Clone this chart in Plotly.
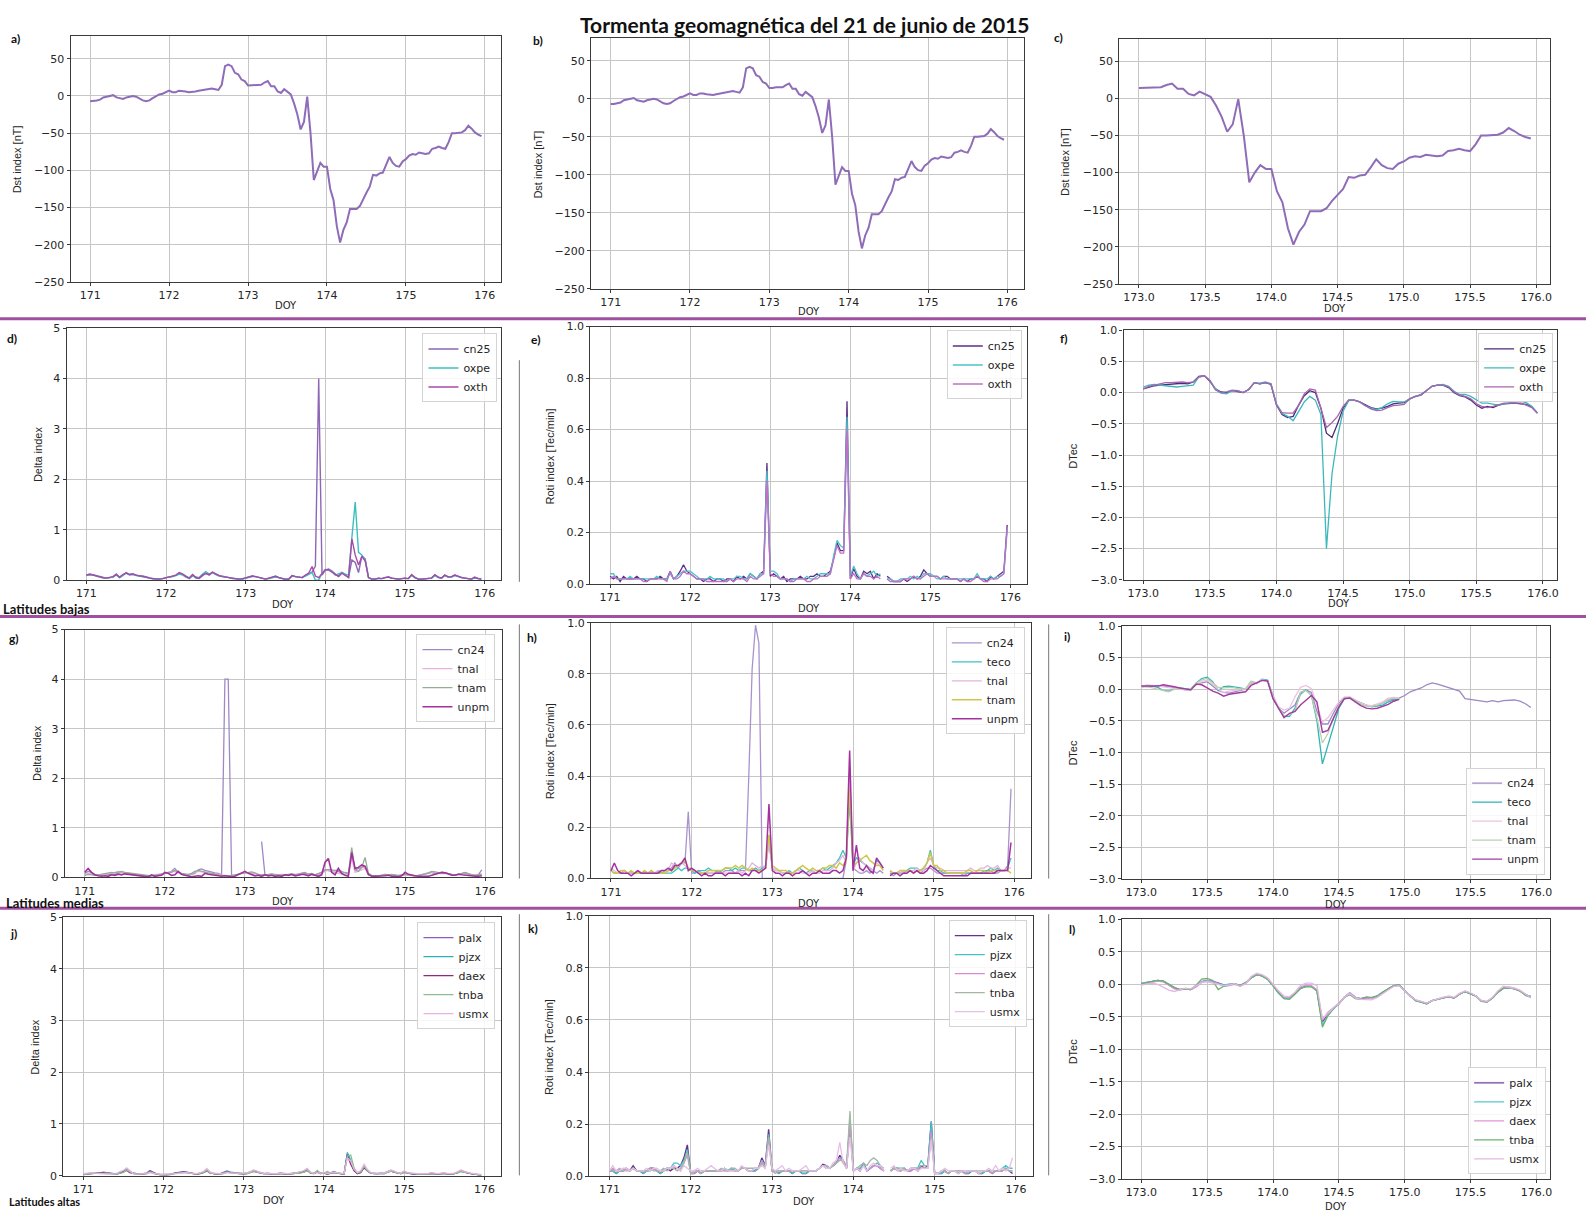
import plotly.graph_objects as go

W, H = 1588, 1218

# ---------------- time bases (hourly samples, day of year) ----------------
doy_full = [171 + h / 24 for h in range(120)]   # 171.000 ... 175.958
doy_late = [173 + h / 24 for h in range(72)]    # 173.000 ... 175.958
doy_mid = doy_late[:48]                         # 173.000 ... 174.958

# ---------------- Dst index [nT] ----------------
dst = [
    -7, -7, -6, -5, -2, -1,  0, 1, -2, -3, -4, -2,  -1, 0, -1, -4, -6, -7,  -6, -3, 0, 2, 3, 5,
    7, 5, 5, 7, 7, 6,  5, 5, 6, 7, 8, 8,  9, 10, 9, 8, 15, 40,  42, 40, 31, 29, 22, 20,
    14, 14, 15, 15, 15, 18,  20, 13, 13, 6, 4, 9,  6, 2, -10, -25, -45, -35,  -1, -50, -113, -100, -90, -95,
    -95, -125, -140, -175, -197, -180,  -170, -152, -152, -152, -148, -138,  -130, -122, -106, -107, -104, -103,  -93, -82, -90, -94, -95, -88,
    -85, -80, -78, -79, -76, -77,  -78, -77, -71, -70, -68, -70,  -71, -62, -50, -50, -49, -49,  -46, -40, -44, -49, -52, -54,
]

# ---------------- low latitudes ----------------
delta_cn25 = [
    .10, .12, .11, .09, .07, .05,  .04, .05, .06, .12, .05, .10,  .15, .11, .12, .10, .08, .08,  .06, .05, .03, .02, .02, .03,
    .05, .06, .07, .10, .14, .12,  .08, .04, .10, .04, .03, .08,  .14, .10, .15, .12, .09, .08,  .07, .05, .03, .02, .02, .02,
    .04, .06, .08, .07, .05, .03,  .02, .04, .06, .07, .05, .03,  .01, .02, .09, .07, .06, .05,  .09, .13, .16, .28, 4.0, .10,
    .20, .22, .18, .12, .08, .15,  .10, .05, .40, .35, .15, .48,  .42, .05, .02, .02, .04, .03,  .05, .06, .04, .03, .02, .03,
    .04, .03, .10, .05, .02, .02,  .03, .03, .04, .10, .06, .04,  .10, .07, .06, .10, .07, .05,  .04, .03, .02, .05, .03, .02,
]
delta_oxpe = [
    .09, .11, .10, .08, .06, .04,  .04, .05, .06, .10, .05, .09,  .14, .10, .11, .09, .08, .07,  .05, .04, .02, .02, .02, .03,
    .05, .06, .07, .09, .12, .10,  .06, .03, .08, .06, .05, .12,  .17, .12, .15, .11, .08, .07,  .06, .04, .03, .02, .02, .02,
    .04, .05, .07, .07, .05, .03,  .02, .03, .05, .06, .05, .04,  .02, .03, .08, .07, .06, .05,  .08, .12, .15, .00, .00, .14,
    .20, .21, .17, .10, .12, .15,  .12, .10, .85, 1.55, .55, .50,  .40, .05, .02, .02, .03, .03,  .05, .06, .04, .03, .02, .03,
    .03, .03, .09, .05, .02, .02,  .03, .03, .04, .09, .05, .04,  .09, .06, .06, .09, .07, .05,  .04, .03, .02, .04, .03, .02,
]
delta_oxth = [
    .10, .11, .10, .08, .06, .05,  .04, .05, .07, .11, .06, .11,  .14, .11, .12, .10, .09, .07,  .06, .04, .03, .02, .02, .03,
    .05, .06, .08, .10, .15, .12,  .07, .04, .11, .05, .04, .10,  .13, .11, .16, .12, .09, .07,  .06, .05, .03, .02, .02, .03,
    .05, .07, .08, .07, .05, .03,  .02, .04, .06, .08, .05, .03,  .02, .02, .09, .07, .06, .05,  .10, .14, .27, .08, .05, .12,
    .21, .20, .16, .12, .07, .14,  .10, .05, .82, .50, .30, .47,  .38, .05, .02, .02, .04, .03,  .05, .06, .04, .03, .02, .03,
    .04, .03, .11, .05, .02, .02,  .03, .03, .04, .11, .06, .04,  .10, .06, .07, .10, .07, .05,  .04, .03, .02, .06, .03, .02,
]

roti_cn25 = [
    .03, .02, .03, .01, .03, .02,  .02, .02, .03, .02, .02, .01,  .02, .02, .02, .03, .02, .02,  .05, .02, .03, .05, .075, .05,
    .04, .03, .02, .02, .01, .02,  .02, .01, .02, .02, .01, .02,  .02, .01, .03, .02, .03, .02,  .04, .03, .02, .04, .05, .47,
    .03, .04, .03, .02, .03, .01,  .02, .02, .02, .03, .02, .02,  .03, .03, .04, .03, .03, .04,  .05, .10, .16, .13, .13, .71,
    .02, .06, .03, .02, .05, .04,  .05, .02, .04, .03, None, .03,  .02, .01, .01, .01, .02, .01,  .02, .03, .02, .03, .055, .04,
    .03, .03, .03, .02, .03, .03,  .02, .02, .02, .01, .02, .01,  .02, .02, .03, .02, .02, .01,  .03, .02, .03, .04, .05, .23,
]
roti_oxpe = [
    .04, .04, .02, .02, .02, .02,  .03, .02, .02, .02, .02, .02,  .02, .02, .03, .02, .02, .02,  .04, .02, .03, .04, .05, .05,
    .05, .04, .03, .02, .02, .02,  .03, .02, .02, .02, .02, .01,  .02, .02, .03, .03, .02, .02,  .04, .03, .02, .04, .04, .44,
    .05, .05, .04, .02, .02, .02,  .01, .02, .02, .02, .02, .03,  .02, .02, .03, .04, .04, .04,  .04, .11, .17, .15, .14, .65,
    .03, .07, .04, .02, .04, .03,  .04, .05, .03, .04, None, .02,  .02, .01, .01, .02, .02, .02,  .03, .02, .03, .02, .04, .04,
    .04, .03, .02, .02, .03, .02,  .02, .02, .02, .02, .02, .02,  .02, .02, .04, .02, .02, .02,  .03, .02, .03, .03, .04, .21,
]
roti_oxth = [
    .02, .03, .02, .02, .02, .02,  .02, .02, .02, .02, .01, .01,  .02, .02, .02, .02, .02, .01,  .05, .02, .02, .03, .05, .04,
    .04, .03, .02, .02, .02, .01,  .01, .01, .01, .01, .01, .01,  .02, .01, .02, .02, .02, .01,  .03, .02, .02, .03, .04, .40,
    .04, .03, .03, .02, .02, .02,  .01, .01, .02, .02, .02, .01,  .01, .02, .02, .03, .03, .03,  .04, .09, .15, .12, .12, .60,
    .02, .04, .02, .02, .04, .03,  .03, .02, .03, .02, None, .02,  .01, .01, .01, .01, .02, .02,  .02, .03, .02, .02, .03, .04,
    .03, .03, .03, .02, .02, .02,  .02, .02, .02, .01, .02, .01,  .01, .02, .03, .02, .01, .01,  .02, .02, .02, .03, .04, .22,
]

dtec_cn25 = [
    .06, .09, .11, .12, .13, .14,  .15, .15, .14, .17, .26, .27,  .18, .06, .01, .00, .03, .02,  .00, .05, .16, .14, .16, .13,
    -.20, -.35, -.40, -.38, -.20, -.05,  .03, .00, -.25, -.65, -.72, -.50,  -.25, -.12, -.12, -.15, -.20, -.24,  -.26, -.25, -.22, -.18, -.17, -.16,
    -.10, -.06, -.04, .03, .10, .12,  .12, .08, .00, -.05, -.07, -.12,  -.20, -.25, -.22, -.24, -.20, -.18,  -.17, -.17, -.18, -.19, -.23, -.33,
]
dtec_oxpe = [
    .09, .12, .13, .12, .11, .10,  .09, .10, .11, .12, .25, .27,  .20, .06, -.01, -.02, .03, .03,  .00, .05, .16, .15, .17, .14,
    -.18, -.33, -.38, -.45, -.30, -.15,  -.06, -.12, -.35, -2.50, -1.30, -.70,  -.30, -.13, -.12, -.15, -.21, -.25,  -.27, -.24, -.18, -.14, -.15, -.15,
    -.10, -.06, -.03, .03, .10, .12,  .13, .10, .02, -.03, -.03, -.06,  -.12, -.17, -.17, -.18, -.20, -.18,  -.16, -.15, -.14, -.16, -.22, -.32,
]
dtec_oxth = [
    .06, .10, .12, .14, .16, .16,  .17, .17, .16, .17, .25, .27,  .19, .04, .00, .01, .04, .03,  .00, .05, .16, .14, .16, .14,
    -.20, -.32, -.33, -.33, -.20, -.02,  .06, .04, -.25, -.56, -.48, -.38,  -.22, -.12, -.12, -.15, -.21, -.26,  -.29, -.28, -.24, -.21, -.20, -.19,
    -.10, -.06, -.04, .03, .10, .12,  .12, .09, .01, -.04, -.06, -.10,  -.18, -.22, -.24, -.22, -.20, -.17,  -.17, -.17, -.17, -.20, -.24, -.33,
]

# ---------------- mid latitudes ----------------
delta_cn24 = [
    .08, .12, .10, .06, .05, .04,  .06, .05, .07, .06, .08, .10,  .09, .08, .07, .06, .05, .04,  .03, .02, .03, .05, .04, .06,
    .08, .10, .12, .18, .10, .06,  .05, .04, .06, .08, .15, .17,  .14, .12, .10, .09, .08, .05,  4.0, 4.0, .02, None, None, None,
    None, None, None, None, None, .72,  .05, .04, .06, .05, .04, .06,  .05, .04, .06, .05, .07, .08,  .10, .06, .08, .05, .07, .10,
    .15, .14, .12, .10, .12, .08,  .10, .08, .45, .15, .18, .20,  .22, .05, .03, .02, .03, .05,  .06, .04, .05, .04, .03, .05,
    .06, .04, .03, .03, .04, .05,  .06, .08, .10, .07, .08, .10,  .09, .07, .06, .05, .06, .08,  .10, .07, .05, .04, .06, .15,
]
delta_tnal = [
    .05, .08, .07, .05, .04, .05,  .06, .08, .09, .10, .12, .10,  .08, .07, .06, .05, .04, .04,  .03, .03, .04, .05, .06, .07,
    .08, .09, .10, .12, .09, .07,  .06, .05, .08, .10, .12, .11,  .10, .09, .08, .07, .05, .04,  .03, .03, .03, .05, .06, .08,
    .10, .09, .08, .06, .05, .04,  .04, .05, .06, .05, .04, .05,  .06, .05, .04, .05, .06, .07,  .08, .06, .05, .04, .05, .08,
    .12, .15, .14, .10, .08, .06,  .05, .04, .40, .10, .12, .15,  .18, .06, .03, .02, .03, .04,  .05, .05, .04, .03, .03, .04,
    .05, .05, .04, .03, .04, .06,  .08, .10, .11, .09, .08, .07,  .08, .06, .05, .04, .05, .06,  .08, .06, .05, .04, .04, .05,
]
delta_tnam = [
    .04, .06, .05, .04, .05, .06,  .07, .08, .10, .09, .11, .12,  .10, .09, .08, .07, .06, .05,  .04, .03, .03, .04, .05, .06,
    .07, .08, .10, .14, .11, .08,  .07, .06, .08, .12, .14, .12,  .10, .09, .08, .06, .05, .04,  .03, .03, .04, .05, .06, .07,
    .09, .10, .11, .09, .06, .05,  .05, .06, .07, .06, .05, .04,  .05, .06, .07, .06, .05, .06,  .08, .07, .06, .05, .07, .10,
    .15, .16, .15, .14, .15, .12,  .08, .06, .60, .15, .12, .20,  .40, .08, .04, .03, .03, .04,  .06, .05, .06, .05, .04, .05,
    .06, .05, .04, .03, .04, .05,  .07, .09, .12, .11, .09, .08,  .09, .07, .06, .05, .06, .07,  .09, .07, .05, .04, .05, .07,
]
delta_unpm = [
    .10, .18, .10, .05, .03, .02,  .03, .02, .05, .04, .06, .05,  .07, .06, .06, .05, .04, .02,  .02, .01, .05, .02, .03, .04,
    .10, .08, .04, .05, .12, .06,  .04, .03, .01, .02, .03, .02,  .08, .06, .05, .04, .03, .02,  .03, .02, .01, .02, .05, .08,
    .12, .08, .05, .03, .04, .02,  .05, .03, .04, .02, .03, .02,  .05, .04, .06, .03, .04, .06,  .05, .03, .06, .04, .02, .05,
    .30, .38, .10, .05, .18, .08,  .04, .02, .50, .18, .20, .25,  .22, .06, .02, .02, .02, .03,  .03, .04, .02, .02, .01, .03,
    .10, .06, .04, .03, .02, .02,  .03, .02, .04, .06, .08, .10,  .09, .06, .04, .04, .06, .05,  .04, .03, .03, .02, .02, .03,
]

roti_cn24 = [
    .03, .02, .02, .02, .03, .02,  .02, .02, .03, .02, .02, .02,  .03, .02, .02, .02, .03, .03,  .04, .06, .04, .06, .06, .26,
    .02, .02, .03, .02, .02, .02,  .02, .02, .03, .02, .03, .03,  .03, .02, .03, .03, .03, .40,  .82, .99, .92, .00, .00, .00,
    .00, .00, .00, .00, .00, .00,  .00, .00, .00, .00, .00, .00,  .00, .00, .00, .00, .00, .00,  .00, .00, .00, .00, .07, .40,
    .04, .03, .02, .02, .03, .02,  .03, .02, .03, .02, None, .02,  .01, .02, .02, .02, .03, .03,  .02, .03, .02, .03, .04, .04,
    .03, .02, .02, .02, .02, .02,  .02, .02, .02, .01, .02, .02,  .02, .02, .02, .02, .03, .03,  .02, .02, .03, .03, .05, .35,
]
roti_teco = [
    .03, .02, .02, .02, .03, .02,  .02, .02, .02, .02, .02, .02,  .02, .02, .03, .02, .02, .02,  .02, .03, .04, .03, .04, .04,
    .03, .02, .03, .03, .03, .04,  .03, .03, .02, .03, .04, .04,  .03, .04, .03, .04, .04, .03,  .03, .04, .03, .04, .05, .14,
    .04, .03, .03, .02, .02, .03,  .02, .03, .04, .03, .02, .03,  .03, .02, .03, .04, .03, .04,  .05, .06, .08, .11, .08, .30,
    .05, .08, .07, .06, .05, .04,  .03, .07, .06, .04, None, .02,  .02, .02, .02, .03, .03, .04,  .04, .04, .03, .04, .06, .11,
    .05, .03, .03, .02, .02, .02,  .02, .02, .02, .02, .02, .02,  .02, .02, .02, .03, .03, .04,  .03, .04, .03, .03, .04, .08,
]
roti_tnal = [
    .04, .03, .02, .02, .03, .02,  .02, .02, .03, .02, .03, .02,  .02, .02, .03, .03, .03, .03,  .06, .05, .05, .06, .05, .04,
    .04, .03, .02, .02, .02, .02,  .02, .02, .02, .02, .02, .02,  .02, .02, .03, .02, .03, .04,  .06, .05, .04, .05, .04, .14,
    .04, .03, .03, .02, .02, .02,  .02, .03, .03, .02, .02, .02,  .03, .02, .02, .03, .03, .03,  .04, .06, .07, .09, .06, .42,
    .03, .06, .08, .06, .05, .04,  .03, .06, .05, .04, None, .03,  .02, .02, .02, .03, .03, .03,  .03, .04, .03, .03, .06, .08,
    .05, .04, .04, .03, .03, .03,  .03, .03, .03, .03, .03, .04,  .03, .03, .04, .04, .05, .04,  .04, .05, .03, .03, .04, .04,
]
roti_tnam = [
    .03, .02, .02, .03, .03, .02,  .03, .02, .02, .02, .03, .02,  .03, .02, .02, .02, .02, .03,  .03, .04, .05, .06, .07, .04,
    .03, .03, .02, .02, .02, .03,  .03, .03, .03, .03, .04, .04,  .04, .05, .04, .05, .04, .03,  .04, .03, .03, .03, .04, .17,
    .05, .04, .03, .03, .03, .02,  .02, .03, .04, .05, .04, .03,  .04, .03, .03, .04, .04, .05,  .05, .04, .06, .05, .07, .35,
    .05, .06, .07, .08, .09, .07,  .06, .05, .05, .03, None, .03,  .02, .02, .03, .03, .03, .03,  .02, .03, .03, .04, .06, .10,
    .05, .05, .03, .03, .02, .02,  .02, .02, .02, .02, .03, .03,  .02, .03, .03, .03, .02, .03,  .03, .03, .03, .03, .03, .02,
]
roti_unpm = [
    .03, .06, .03, .02, .02, .02,  .01, .02, .03, .02, .02, .02,  .02, .02, .02, .03, .03, .04,  .03, .05, .05, .06, .08, .03,
    .04, .03, .02, .01, .02, .01,  .01, .02, .02, .02, .01, .02,  .02, .02, .02, .01, .02, .01,  .03, .03, .02, .03, .04, .29,
    .03, .02, .02, .01, .02, .02,  .01, .02, .02, .03, .02, .01,  .02, .02, .03, .02, .02, .02,  .03, .03, .02, .03, .08, .50,
    .03, .13, .04, .03, .05, .03,  .02, .08, .06, .04, None, .01,  .02, .02, .01, .02, .02, .03,  .02, .03, .02, .02, .03, .05,
    .04, .03, .02, .01, .01, .01,  .01, .01, .01, .01, .01, .02,  .02, .02, .02, .02, .02, .02,  .02, .03, .03, .03, .03, .14,
]

dtec_cn24 = [
    .04, .06, .05, .06, .05, .03,  .02, .01, -.01, -.01, .09, .10,  .12, .05, -.02, -.05, -.06, -.04,  -.02, .00, .10, .09, .15, .14,
    -.10, -.30, -.38, -.32, -.25, -.05,  -.01, -.05, -.35, -.55, -.55, -.38,  -.22, -.14, -.13, -.18, -.22, -.25,  -.27, -.26, -.22, -.17, -.16, -.14,
    -.10, -.04, -.01, .02, .07, .10,  .08, .05, .02, -.01, -.03, -.15,  -.16, -.17, -.18, -.20, -.18, -.20,  -.18, -.17, -.17, -.19, -.23, -.29,
]
dtec_teco = [
    .05, .04, .05, .03, -.02, -.03,  .00, .02, .01, .00, .10, .17,  .19, .12, -.02, .04, .05, .04,  .02, .00, .12, .10, .16, .14,
    -.15, -.30, -.43, -.43, -.30, -.08,  -.01, -.10, -.50, -1.18, -.90, -.60,  -.30, -.15, -.13, -.18, -.22, -.26,  -.28, -.27, -.25, -.20, -.17, -.15,
]
dtec_tnal = [
    .04, .07, .06, .05, .04, .03,  .02, .00, -.01, .00, .07, .13,  .14, .08, .00, -.05, -.03, -.02,  -.02, .00, .10, .10, .15, .13,
    -.12, -.28, -.33, -.30, -.12, .03,  .06, .01, -.25, -.52, -.45, -.33,  -.20, -.12, -.12, -.17, -.22, -.25,  -.26, -.23, -.20, -.14, -.13, -.14,
]
dtec_tnam = [
    .03, .04, .02, .00, -.03, -.04,  .00, .01, .00, -.02, .10, .15,  .17, .10, .03, .02, .03, .02,  .00, .01, .13, .10, .14, .13,
    -.15, -.30, -.42, -.40, -.35, -.05,  -.02, -.10, -.45, -.85, -.70, -.45,  -.25, -.14, -.13, -.18, -.24, -.27,  -.27, -.25, -.22, -.16, -.14, -.15,
]
dtec_unpm = [
    .05, .05, .04, .05, .07, .06,  .04, .02, .00, -.01, .08, .07,  .02, -.03, -.06, -.11, -.08, -.07,  -.06, -.04, .06, .10, .14, .13,
    -.15, -.30, -.45, -.38, -.35, -.25,  -.17, -.10, -.20, -.68, -.65, -.45,  -.28, -.15, -.14, -.20, -.26, -.30,  -.31, -.30, -.27, -.24, -.19, -.16,
]

# ---------------- high latitudes ----------------
delta_palx = [
    .03, .04, .04, .05, .06, .05,  .07, .06, .05, .04, .03, .06,  .08, .13, .08, .05, .04, .03,  .04, .05, .10, .06, .03, .02,
    .02, .01, .03, .05, .06, .07,  .08, .07, .06, .04, .03, .05,  .07, .11, .06, .04, .03, .04,  .06, .09, .07, .06, .05, .04,
    .04, .05, .07, .10, .08, .06,  .04, .05, .04, .03, .04, .05,  .04, .03, .04, .05, .06, .07,  .08, .12, .06, .05, .08, .05,
    .06, .03, .05, .08, .05, .04,  .03, .42, .25, .10, .04, .08,  .18, .10, .05, .04, .04, .05,  .04, .08, .10, .08, .05, .04,
    .08, .05, .04, .03, .04, .03,  .03, .03, .05, .04, .03, .04,  .05, .03, .03, .04, .07, .10,  .08, .05, .04, .03, .02, .01,
]
delta_pjzx = [
    .03, .04, .05, .05, .05, .06,  .06, .05, .05, .04, .04, .06,  .07, .12, .07, .05, .04, .03,  .04, .05, .08, .05, .03, .02,
    .02, .02, .03, .04, .06, .06,  .07, .07, .05, .04, .03, .05,  .06, .10, .06, .04, .03, .04,  .05, .08, .06, .05, .05, .04,
    .04, .05, .07, .09, .07, .05,  .04, .04, .04, .03, .04, .05,  .04, .03, .04, .05, .05, .06,  .08, .11, .06, .05, .07, .05,
    .05, .04, .05, .07, .05, .04,  .03, .45, .30, .12, .05, .07,  .15, .09, .05, .04, .04, .05,  .05, .08, .09, .07, .05, .04,
    .07, .05, .04, .03, .04, .03,  .03, .03, .05, .04, .03, .04,  .05, .03, .03, .04, .06, .09,  .07, .05, .04, .03, .02, .01,
]
delta_daex = [
    .02, .03, .04, .04, .05, .05,  .06, .05, .04, .04, .03, .05,  .07, .10, .06, .04, .03, .03,  .03, .04, .08, .05, .03, .02,
    .02, .01, .02, .04, .05, .06,  .07, .06, .05, .04, .03, .04,  .06, .09, .05, .04, .03, .03,  .05, .07, .06, .05, .04, .04,
    .03, .04, .06, .09, .07, .05,  .04, .04, .03, .03, .03, .04,  .04, .03, .03, .04, .05, .06,  .07, .10, .05, .04, .07, .04,
    .05, .03, .04, .06, .05, .04,  .03, .40, .22, .10, .04, .06,  .16, .09, .05, .04, .04, .05,  .04, .07, .09, .07, .05, .04,
    .07, .05, .04, .03, .03, .03,  .03, .03, .04, .04, .03, .04,  .04, .03, .03, .04, .06, .09,  .07, .05, .04, .03, .02, .01,
]
delta_tnba = [
    .02, .03, .03, .04, .05, .04,  .05, .05, .04, .03, .03, .05,  .06, .11, .07, .04, .03, .03,  .03, .04, .07, .05, .03, .02,
    .02, .02, .02, .04, .05, .05,  .06, .06, .05, .04, .03, .05,  .06, .10, .05, .04, .03, .03,  .04, .07, .06, .05, .04, .04,
    .03, .04, .06, .08, .07, .05,  .04, .04, .03, .03, .03, .04,  .04, .03, .03, .04, .05, .05,  .07, .10, .05, .04, .10, .04,
    .05, .08, .05, .06, .05, .04,  .03, .38, .40, .15, .05, .07,  .18, .09, .05, .04, .04, .05,  .04, .07, .09, .07, .05, .04,
    .06, .05, .04, .03, .03, .03,  .03, .03, .04, .04, .03, .04,  .04, .03, .03, .04, .06, .08,  .07, .05, .04, .03, .02, .01,
]
delta_usmx = [
    .04, .05, .06, .06, .05, .04,  .04, .03, .03, .03, .04, .08,  .10, .15, .09, .04, .03, .03,  .04, .05, .06, .04, .03, .03,
    .03, .03, .04, .03, .04, .05,  .06, .06, .05, .04, .04, .06,  .08, .14, .07, .05, .04, .04,  .05, .06, .05, .05, .04, .04,
    .04, .05, .08, .11, .09, .06,  .04, .05, .04, .04, .04, .05,  .05, .04, .04, .05, .06, .08,  .10, .14, .07, .05, .06, .05,
    .06, .04, .06, .07, .06, .05,  .04, .35, .28, .12, .06, .10,  .22, .12, .06, .05, .05, .06,  .05, .08, .11, .09, .06, .05,
    .09, .06, .05, .04, .04, .04,  .04, .04, .06, .05, .04, .05,  .06, .04, .04, .05, .08, .11,  .08, .06, .05, .04, .03, .02,
]

roti_palx = [
    .02, .02, .01, .02, .02, .03,  .02, .04, .02, .02, .01, .02,  .03, .03, .02, .01, .02, .03,  .02, .03, .03, .04, .07, .12,
    .01, .01, .02, .01, .02, .02,  .02, .02, .02, .02, .03, .02,  .03, .02, .02, .03, .03, .02,  .02, .02, .03, .07, .04, .18,
    .02, .02, .01, .02, .02, .02,  .01, .02, .02, .01, .01, .02,  .02, .02, .03, .045, .04, .03,  .04, .05, .08, .06, .03, .20,
    .02, .03, .02, .05, .02, .03,  .04, .04, .03, .02, None, .02,  .03, .03, .02, .03, .02, .02,  .03, .02, .04, .03, .04, .21,
    .01, .01, .01, .02, .01, .02,  .02, .01, .02, .01, .01, .02,  .02, .01, .01, .02, .02, .01,  .02, .02, .02, .03, .02, .01,
]
roti_pjzx = [
    .02, .02, .01, .02, .02, .03,  .02, .03, .02, .02, .01, .02,  .02, .03, .02, .01, .02, .03,  .03, .05, .05, .04, .06, .10,
    .01, .01, .02, .01, .02, .02,  .02, .02, .02, .02, .03, .02,  .03, .02, .02, .03, .03, .02,  .02, .02, .03, .06, .04, .16,
    .02, .02, .01, .02, .02, .02,  .01, .02, .02, .01, .01, .02,  .02, .02, .03, .04, .04, .03,  .04, .05, .07, .06, .03, .22,
    .02, .03, .03, .05, .02, .03,  .04, .05, .04, .02, None, .02,  .03, .03, .03, .03, .02, .03,  .03, .03, .06, .04, .04, .21,
    .01, .01, .01, .02, .01, .02,  .02, .01, .02, .01, .01, .02,  .02, .01, .01, .02, .02, .01,  .02, .02, .03, .04, .03, .03,
]
roti_daex = [
    .02, .03, .02, .02, .02, .03,  .02, .03, .02, .02, .02, .02,  .02, .03, .02, .02, .02, .03,  .03, .04, .03, .02, .05, .08,
    .01, .01, .02, .02, .02, .02,  .02, .02, .02, .02, .02, .02,  .02, .02, .02, .03, .03, .02,  .02, .03, .03, .06, .03, .15,
    .02, .02, .02, .02, .02, .02,  .02, .02, .02, .02, .02, .02,  .02, .02, .03, .04, .03, .03,  .04, .06, .07, .05, .03, .20,
    .02, .03, .02, .04, .02, .03,  .04, .04, .03, .02, None, .02,  .03, .02, .02, .03, .02, .02,  .03, .02, .03, .03, .03, .17,
    .01, .01, .02, .02, .01, .02,  .02, .02, .02, .01, .02, .02,  .02, .01, .02, .02, .02, .01,  .02, .02, .02, .03, .02, .02,
]
roti_tnba = [
    .02, .02, .02, .03, .02, .02,  .02, .03, .02, .02, .02, .02,  .03, .02, .02, .02, .03, .02,  .03, .03, .02, .03, .05, .09,
    .01, .02, .02, .01, .02, .02,  .02, .02, .02, .03, .02, .02,  .03, .03, .02, .03, .03, .03,  .03, .03, .03, .05, .03, .15,
    .02, .01, .02, .02, .02, .02,  .02, .02, .02, .02, .02, .02,  .02, .02, .03, .04, .04, .03,  .04, .05, .06, .06, .04, .25,
    .02, .03, .04, .05, .04, .06,  .07, .06, .04, .03, None, .02,  .03, .03, .02, .03, .02, .03,  .03, .03, .04, .04, .04, .15,
    .01, .01, .02, .02, .01, .02,  .02, .02, .02, .02, .02, .02,  .02, .02, .02, .02, .02, .02,  .02, .02, .02, .03, .02, .02,
]
roti_usmx = [
    .02, .04, .02, .02, .03, .03,  .02, .03, .02, .02, .02, .03,  .02, .03, .03, .02, .02, .03,  .03, .04, .03, .02, .04, .03,
    .02, .02, .03, .02, .02, .03,  .04, .03, .02, .02, .03, .02,  .02, .02, .02, .04, .03, .02,  .02, .03, .03, .04, .03, .12,
    .03, .02, .03, .04, .02, .03,  .02, .02, .02, .03, .04, .02,  .02, .02, .03, .04, .03, .03,  .05, .06, .13, .05, .03, .15,
    .02, .03, .02, .04, .02, .04,  .05, .04, .04, .02, None, .03,  .04, .02, .03, .02, .02, .03,  .03, .02, .03, .03, .03, .14,
    .01, .01, .02, .03, .02, .02,  .02, .01, .02, .02, .02, .02,  .02, .01, .02, .02, .03, .02,  .04, .02, .03, .02, .03, .07,
]

dtec_palx = [
    .01, .03, .05, .06, .05, .00,  -.05, -.08, -.07, -.08, -.03, .04,  .06, .05, .02, -.01, .00, .01,  -.02, .02, .10, .15, .13, .08,
    -.02, -.13, -.21, -.21, -.14, -.06,  -.03, -.03, -.10, -.58, -.45, -.37,  -.30, -.20, -.13, -.20, -.22, -.20,  -.21, -.18, -.12, -.07, -.02, -.01,
    -.10, -.18, -.25, -.27, -.30, -.25,  -.23, -.21, -.19, -.21, -.15, -.11,  -.14, -.18, -.26, -.27, -.21, -.12,  -.06, -.05, -.07, -.10, -.16, -.19,
]
dtec_pjzx = [
    .02, .03, .05, .06, .05, .00,  -.05, -.08, -.07, -.08, -.03, .04,  .06, .05, .01, -.01, .00, .01,  -.02, .02, .10, .15, .13, .08,
    -.02, -.14, -.22, -.22, -.15, -.06,  -.03, -.03, -.10, -.63, -.48, -.38,  -.30, -.20, -.13, -.20, -.23, -.21,  -.21, -.18, -.12, -.07, -.02, -.01,
    -.10, -.18, -.25, -.27, -.30, -.25,  -.23, -.21, -.19, -.21, -.15, -.11,  -.14, -.18, -.26, -.27, -.21, -.12,  -.06, -.05, -.07, -.10, -.16, -.19,
]
dtec_daex = [
    .00, .02, .04, .05, .04, -.02,  -.07, -.09, -.07, -.08, -.04, .03,  .05, .04, .00, -.03, -.02, .00,  -.03, .01, .10, .16, .14, .09,
    -.01, -.12, -.20, -.20, -.13, -.04,  -.01, -.02, -.08, -.55, -.43, -.36,  -.29, -.20, -.13, -.20, -.22, -.21,  -.22, -.19, -.13, -.08, -.03, -.02,
    -.10, -.18, -.24, -.27, -.29, -.25,  -.22, -.20, -.19, -.21, -.15, -.11,  -.14, -.18, -.25, -.27, -.21, -.12,  -.06, -.04, -.06, -.10, -.15, -.20,
]
dtec_tnba = [
    .01, .03, .05, .06, .05, .00,  -.05, -.08, -.07, -.08, -.01, .08,  .09, .06, -.08, -.03, -.01, .01,  -.02, .03, .10, .15, .13, .08,
    -.02, -.13, -.22, -.23, -.15, -.06,  -.04, -.04, -.10, -.66, -.48, -.37,  -.30, -.20, -.16, -.22, -.23, -.20,  -.20, -.18, -.12, -.07, -.02, -.01,
    -.10, -.18, -.25, -.27, -.30, -.25,  -.23, -.21, -.19, -.21, -.15, -.11,  -.14, -.18, -.26, -.27, -.21, -.12,  -.06, -.05, -.07, -.10, -.17, -.20,
]
dtec_usmx = [
    -.01, .00, .02, .00, -.04, -.09,  -.11, -.09, -.06, -.07, -.02, .03,  .04, .02, .00, -.02, -.01, .01,  -.03, .01, .12, .17, .15, .10,
    .00, -.10, -.18, -.19, -.12, -.02,  .02, .02, -.02, -.53, -.45, -.36,  -.30, -.20, -.14, -.21, -.23, -.23,  -.24, -.20, -.14, -.08, -.03, -.02,
    -.10, -.18, -.24, -.27, -.29, -.25,  -.22, -.20, -.18, -.20, -.14, -.10,  -.13, -.18, -.25, -.26, -.20, -.10,  -.03, -.04, -.06, -.09, -.15, -.21,
]

# ---------------- figure text ----------------
title_text = "Tormenta geomagnética del 21 de junio de 2015"
row_labels = ["Latitudes bajas", "Latitudes medias", "Latitudes altas"]
y_titles = {"dst": "Dst index [nT]", "delta": "Delta index",
            "roti": "Roti index [Tec/min]", "dtec": "DTec"}
x_title = "DOY"

# ---------------- panel geometry (pixel boxes: left, top, right, bottom) ----------------
X5 = [170.752, 176.206]
X3 = [172.852, 176.106]
ticks5 = [171, 172, 173, 174, 175, 176]
ticks3 = [173.0, 173.5, 174.0, 174.5, 175.0, 175.5, 176.0]
yt_dst = [50, 0, -50, -100, -150, -200, -250]
yt_delta = [0, 1, 2, 3, 4, 5]
yt_roti = [0, 0.2, 0.4, 0.6, 0.8, 1.0]
yt_dtec = [1.0, 0.5, 0.0, -0.5, -1.0, -1.5, -2.0, -2.5, -3.0]

panels = [
    # letter, box, xrange, xticks, xfmt, yrange, yticks, yfmt, ytitle, ytitle pos, DOY pos, letter pos,
    # legend anchor (x, y, vertical anchor)
    ("a", (70.7, 30.7, 501.7, 279.0), X5, ticks5, "d", [-250, 80], yt_dst, "d", "dst", (17, 155), (286, 303), (9, 33), None),
    ("b", (591.7, 32.3, 1025.0, 285.7), X5, ticks5, "d", [-250, 80], yt_dst, "d", "dst", (539, 160), (810, 309), (532, 35), None),
    ("c", (1120.7, 33.3, 1552.3, 281.0), X3, ticks3, ".1f", [-250, 80], yt_dst, "d", "dst", (1067, 158), (1337, 306), (1053, 32), None),
    ("d", (66.7, 325.7, 501.7, 580.3), X5, ticks5, "d", [0, 5], yt_delta, "d", "delta", (38, 453), (283, 605), (5, 336), (423, 331, "top")),
    ("e", (591.0, 324.0, 1028.3, 584.3), X5, ticks5, "d", [0, 1], yt_roti, ".1f", "roti", (551, 455), (810, 609), (530, 337), (948, 328, "top")),
    ("f", (1125.0, 327.7, 1559.0, 580.0), X3, ticks3, ".1f", [-3, 1], yt_dtec, ".1f", "dtec", (1074, 455), (1341, 604), (1059, 336), (1480, 331, "top")),
    ("g", (65.0, 630.3, 502.3, 880.7), X5, ticks5, "d", [0, 5], yt_delta, "d", "delta", (37, 755), (283, 905), (7, 639), (417, 635, "top")),
    ("h", (591.7, 623.3, 1032.3, 881.7), X5, ticks5, "d", [0, 1], yt_roti, ".1f", "roti", (551, 753), (810, 907), (526, 638), (947, 628, "top")),
    ("i", (1123.3, 626.7, 1552.3, 882.3), X3, ticks3, ".1f", [-3, 1], yt_dtec, ".1f", "dtec", (1074, 755), (1338, 908), (1063, 637), (1468, 878, "bottom")),
    ("j", (63.3, 921.0, 501.7, 1182.3), X5, ticks5, "d", [0, 5], yt_delta, "d", "delta", (35, 1052), (274, 1207), (8, 938), (418, 926, "top")),
    ("k", (590.0, 919.7, 1034.0, 1182.7), X5, ticks5, "d", [0, 1], yt_roti, ".1f", "roti", (549, 1052), (805, 1208), (527, 932), (950, 924, "top")),
    ("l", (1123.3, 923.3, 1552.3, 1185.7), X3, ticks3, ".1f", [-3, 1], yt_dtec, ".1f", "dtec", (1074, 1057), (1338, 1213), (1068, 933), (1470, 1181, "bottom")),
]

DST_C = "#8e6cb8"
series = {
    "a": [("Dst", doy_full, dst, DST_C, 2.0)],
    "b": [("Dst", doy_full, dst, DST_C, 2.0)],
    "c": [("Dst", doy_full[48:], dst[48:], DST_C, 2.0)],
    "d": [("cn25", doy_full, delta_cn25, "#8d66b5", 1.4),
          ("oxpe", doy_full, delta_oxpe, "#3cbfc0", 1.4),
          ("oxth", doy_full, delta_oxth, "#a848a8", 1.4)],
    "e": [("cn25", doy_full, roti_cn25, "#5e2d86", 1.3),
          ("oxpe", doy_full, roti_oxpe, "#4cc4c8", 1.3),
          ("oxth", doy_full, roti_oxth, "#c070c8", 1.3)],
    "f": [("cn25", doy_late, dtec_cn25, "#4b2a7b", 1.3),
          ("oxpe", doy_late, dtec_oxpe, "#3cb8bc", 1.3),
          ("oxth", doy_late, dtec_oxth, "#a865b0", 1.3)],
    "g": [("cn24", doy_full, delta_cn24, "#a088c4", 1.3),
          ("tnal", doy_full, delta_tnal, "#e8b4dc", 1.3),
          ("tnam", doy_full, delta_tnam, "#94ab94", 1.3),
          ("unpm", doy_full, delta_unpm, "#a2309e", 1.6)],
    "h": [("cn24", doy_full, roti_cn24, "#a993cc", 1.3),
          ("teco", doy_full, roti_teco, "#3ec0c4", 1.3),
          ("tnal", doy_full, roti_tnal, "#e3b5da", 1.3),
          ("tnam", doy_full, roti_tnam, "#cdc84a", 1.5),
          ("unpm", doy_full, roti_unpm, "#a5309f", 1.5)],
    "i": [("cn24", doy_late, dtec_cn24, "#9d88c2", 1.3),
          ("teco", doy_mid, dtec_teco, "#2fb5b8", 1.3),
          ("tnal", doy_mid, dtec_tnal, "#ecc4e0", 1.3),
          ("tnam", doy_mid, dtec_tnam, "#bcd0b0", 1.3),
          ("unpm", doy_mid, dtec_unpm, "#a33aa0", 1.4)],
    "j": [("palx", doy_full, delta_palx, "#8d5cbd", 1.3),
          ("pjzx", doy_full, delta_pjzx, "#2fb1bd", 1.3),
          ("daex", doy_full, delta_daex, "#8a2b82", 1.3),
          ("tnba", doy_full, delta_tnba, "#8cbf8c", 1.3),
          ("usmx", doy_full, delta_usmx, "#e6b4de", 1.3)],
    "k": [("palx", doy_full, roti_palx, "#64318c", 1.4),
          ("pjzx", doy_full, roti_pjzx, "#45c2c6", 1.3),
          ("daex", doy_full, roti_daex, "#d88bd2", 1.3),
          ("tnba", doy_full, roti_tnba, "#a3b8a3", 1.3),
          ("usmx", doy_full, roti_usmx, "#e5bfe5", 1.3)],
    "l": [("palx", doy_late, dtec_palx, "#6d3fa3", 1.4),
          ("pjzx", doy_late, dtec_pjzx, "#55c8ca", 1.3),
          ("daex", doy_late, dtec_daex, "#e095dc", 1.3),
          ("tnba", doy_late, dtec_tnba, "#6fb06f", 1.3),
          ("usmx", doy_late, dtec_usmx, "#e3b8e3", 1.3)],
}

TICK_FONT = dict(family="DejaVu Sans", size=11, color="#262626")
LABEL_FONT = dict(family="Liberation Sans", size=11, color="#262626")
FRAME = "#3a3a3a"
GRID = "#c6c6c6"

fig = go.Figure()
layout = dict(
    width=W, height=H, margin=dict(l=0, r=0, t=0, b=0),
    paper_bgcolor="white", plot_bgcolor="white", showlegend=True,
)
annotations = []
legend_ix = 0

for n, (letter, box, xr, xt, xfmt, yr, yt, yfmt, ykey, ypos, dpos, lpos, legbox) in enumerate(panels, start=1):
    l, t, r, b = box
    sx = "" if n == 1 else str(n)
    common = dict(showline=True, mirror=True, linecolor=FRAME, linewidth=1.2,
                  showgrid=True, gridcolor=GRID, gridwidth=1, zeroline=False,
                  ticks="outside", ticklen=3, tickwidth=1, tickcolor=FRAME,
                  tickfont=TICK_FONT, fixedrange=True)
    layout["xaxis" + sx] = dict(common, domain=[l / W, r / W], range=xr, tickvals=xt,
                                tickformat=xfmt, anchor="y" + sx)
    layout["yaxis" + sx] = dict(common, domain=[1 - b / H, 1 - t / H], range=yr, tickvals=yt,
                                tickformat=yfmt, anchor="x" + sx)

    legend_name = None
    if legbox is not None:
        legend_ix += 1
        legend_name = "legend" if legend_ix == 1 else f"legend{legend_ix}"
        layout[legend_name] = dict(
            x=legbox[0] / W, y=1 - legbox[1] / H, xanchor="left", yanchor=legbox[2],
            xref="paper", yref="paper",
            bgcolor="rgba(255,255,255,0.85)", bordercolor="#d4d4d4", borderwidth=1,
            font=dict(family="DejaVu Sans", size=11, color="#262626"),
            tracegroupgap=0, itemwidth=30,
        )

    for name, xs, ys, color, width in series[letter]:
        tr = go.Scatter(x=xs, y=ys, mode="lines", name=name,
                        line=dict(color=color, width=width),
                        xaxis="x" + sx, yaxis="y" + sx,
                        showlegend=legend_name is not None, hoverinfo="skip")
        if legend_name is not None:
            tr.legend = legend_name
        fig.add_trace(tr)

    # axis titles and panel letter
    annotations.append(dict(text=y_titles[ykey], x=ypos[0] / W, y=1 - ypos[1] / H,
                            xref="paper", yref="paper", showarrow=False, textangle=-90,
                            xanchor="center", yanchor="middle", font=LABEL_FONT))
    annotations.append(dict(text=x_title, x=dpos[0] / W, y=1 - dpos[1] / H,
                            xref="paper", yref="paper", showarrow=False,
                            xanchor="center", yanchor="middle",
                            font=dict(family="DejaVu Sans", size=10, color="#262626")))
    annotations.append(dict(text=f"<b>{letter})</b>", x=lpos[0] / W, y=1 - lpos[1] / H,
                            xref="paper", yref="paper", showarrow=False,
                            xanchor="left", yanchor="middle",
                            font=dict(family="Lato", size=12, color="#111")))

# main title
annotations.append(dict(text=f"<b>{title_text}</b>", x=806 / W, y=1 - 19 / H,
                        xref="paper", yref="paper", showarrow=False,
                        xanchor="center", yanchor="middle",
                        font=dict(family="Lato", size=21, color="#111")))
# latitude band labels
for txt, (px, py), size in zip(row_labels, [(1, 610), (4, 907), (7, 1208)], [13, 13, 11]):
    annotations.append(dict(text=f"<b>{txt}</b>", x=px / W, y=1 - py / H,
                            xref="paper", yref="paper", showarrow=False,
                            xanchor="left", yanchor="middle",
                            font=dict(family="Lato", size=size, color="#111")))

shapes = []
# purple separators between the latitude bands
for py in [316, 617, 912]:
    shapes.append(dict(type="line", xref="paper", yref="paper", x0=0, x1=1,
                       y0=1 - py / H, y1=1 - py / H,
                       line=dict(color="#a0509f", width=3)))
# thin edges of the pasted panels
for px, y0, y1 in [(520, 358, 582), (520, 625, 882), (520, 918, 1182),
                   (1050, 625, 882), (1050, 918, 1182)]:
    shapes.append(dict(type="line", xref="paper", yref="paper",
                       x0=px / W, x1=px / W, y0=1 - y0 / H, y1=1 - y1 / H,
                       line=dict(color="#777777", width=1)))

layout["annotations"] = annotations
layout["shapes"] = shapes
fig.update_layout(**layout)

fig.write_html("out.html")
